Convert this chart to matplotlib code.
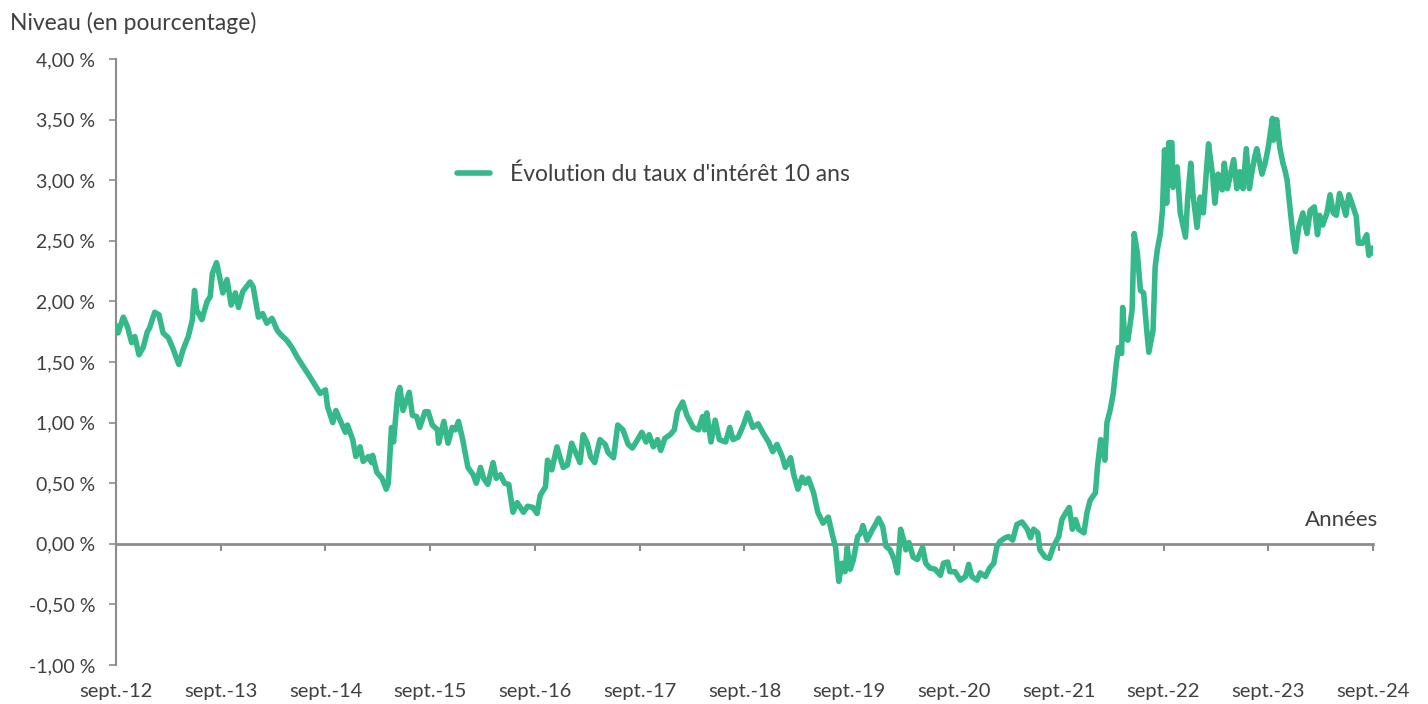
import matplotlib
matplotlib.use("Agg")
import matplotlib.pyplot as plt

plt.rcParams['font.family'] = ['Lato', 'DejaVu Sans']

# années écoulées depuis sept. 2012 et niveau du taux 10 ans (%)
annees = [
    0.00, 0.02, 0.07, 0.11, 0.15, 0.18, 0.22, 0.26, 0.30, 0.32, 0.37, 0.41, 0.45, 0.50, 0.54,
    0.60, 0.64, 0.69, 0.73, 0.75, 0.77, 0.82, 0.87, 0.90, 0.92, 0.96, 0.99, 1.02, 1.06, 1.10,
    1.14, 1.17, 1.21, 1.28, 1.31, 1.36, 1.40, 1.44, 1.49, 1.54, 1.58, 1.63, 1.68, 1.73, 1.79,
    1.85, 1.95, 2.00, 2.02, 2.07, 2.10, 2.14, 2.19, 2.21, 2.26, 2.29, 2.33, 2.36, 2.41, 2.44,
    2.45, 2.49, 2.54, 2.58, 2.60, 2.63, 2.65, 2.69, 2.71, 2.74, 2.80, 2.83, 2.87, 2.90, 2.95,
    2.98, 3.02, 3.07, 3.08, 3.13, 3.17, 3.21, 3.24, 3.27, 3.31, 3.36, 3.41, 3.44, 3.48, 3.51,
    3.55, 3.60, 3.63, 3.67, 3.71, 3.75, 3.79, 3.83, 3.89, 3.93, 3.98, 4.02, 4.05, 4.10, 4.12,
    4.16, 4.21, 4.24, 4.27, 4.31, 4.35, 4.38, 4.43, 4.46, 4.50, 4.53, 4.57, 4.62, 4.67, 4.70,
    4.75, 4.79, 4.84, 4.89, 4.93, 4.98, 5.02, 5.06, 5.09, 5.13, 5.17, 5.20, 5.24, 5.29, 5.33,
    5.36, 5.41, 5.45, 5.51, 5.56, 5.60, 5.62, 5.64, 5.68, 5.72, 5.76, 5.82, 5.86, 5.89, 5.94,
    5.99, 6.03, 6.08, 6.13, 6.18, 6.23, 6.27, 6.31, 6.36, 6.39, 6.44, 6.47, 6.51, 6.55, 6.58,
    6.61, 6.66, 6.70, 6.75, 6.80, 6.84, 6.87, 6.90, 6.93, 6.96, 6.98, 7.01, 7.04, 7.08, 7.11,
    7.13, 7.17, 7.21, 7.25, 7.28, 7.32, 7.35, 7.39, 7.43, 7.46, 7.49, 7.52, 7.54, 7.57, 7.61,
    7.65, 7.70, 7.73, 7.77, 7.82, 7.87, 7.90, 7.94, 7.96, 8.01, 8.06, 8.11, 8.14, 8.17, 8.22,
    8.25, 8.30, 8.34, 8.38, 8.41, 8.44, 8.49, 8.52, 8.56, 8.60, 8.65, 8.70, 8.73, 8.76, 8.80,
    8.82, 8.87, 8.91, 8.95, 9.00, 9.03, 9.07, 9.10, 9.13, 9.16, 9.19, 9.24, 9.27, 9.30, 9.35,
    9.37, 9.40, 9.44, 9.46, 9.49, 9.52, 9.55, 9.57, 9.60, 9.61, 9.63, 9.66, 9.70, 9.72, 9.75,
    9.78, 9.81, 9.84, 9.86, 9.90, 9.92, 9.94, 9.97, 9.99, 10.01, 10.03, 10.05, 10.08, 10.09, 10.13,
    10.16, 10.21, 10.23, 10.26, 10.28, 10.32, 10.35, 10.38, 10.41, 10.43, 10.47, 10.49, 10.52, 10.56, 10.58,
    10.61, 10.64, 10.67, 10.70, 10.73, 10.76, 10.79, 10.82, 10.84, 10.87, 10.89, 10.94, 10.97, 11.00, 11.04,
    11.05, 11.08, 11.11, 11.14, 11.16, 11.18, 11.21, 11.24, 11.26, 11.29, 11.33, 11.37, 11.40, 11.44, 11.47,
    11.49, 11.52, 11.56, 11.59, 11.62, 11.65, 11.68, 11.71, 11.74, 11.77, 11.81, 11.84, 11.86, 11.90, 11.94,
    11.96, 11.99, 12.00,
]
taux = [
    1.80, 1.74, 1.87, 1.79, 1.66, 1.71, 1.56, 1.62, 1.75, 1.78, 1.91, 1.89, 1.74, 1.70, 1.62,
    1.48, 1.60, 1.71, 1.85, 2.09, 1.93, 1.85, 2.00, 2.04, 2.23, 2.32, 2.20, 2.07, 2.18, 1.97,
    2.07, 1.95, 2.08, 2.16, 2.12, 1.87, 1.90, 1.82, 1.86, 1.76, 1.72, 1.68, 1.62, 1.54, 1.46,
    1.38, 1.24, 1.27, 1.13, 1.00, 1.10, 1.02, 0.92, 0.98, 0.86, 0.72, 0.80, 0.68, 0.72, 0.67,
    0.73, 0.59, 0.54, 0.45, 0.50, 0.96, 0.84, 1.24, 1.29, 1.10, 1.25, 1.06, 1.05, 0.96, 1.09,
    1.09, 0.98, 0.94, 0.83, 1.01, 0.83, 0.96, 0.94, 1.01, 0.86, 0.63, 0.57, 0.50, 0.63, 0.54,
    0.49, 0.67, 0.54, 0.57, 0.50, 0.49, 0.26, 0.34, 0.26, 0.31, 0.30, 0.25, 0.40, 0.47, 0.69,
    0.61, 0.80, 0.71, 0.63, 0.65, 0.83, 0.77, 0.67, 0.90, 0.83, 0.72, 0.67, 0.86, 0.82, 0.75,
    0.71, 0.98, 0.94, 0.82, 0.79, 0.86, 0.92, 0.84, 0.90, 0.80, 0.86, 0.77, 0.87, 0.90, 0.94,
    1.09, 1.17, 1.06, 0.96, 0.94, 1.05, 0.94, 1.08, 0.84, 1.02, 0.86, 0.84, 0.96, 0.86, 0.88,
    0.98, 1.08, 0.96, 0.99, 0.91, 0.84, 0.76, 0.82, 0.72, 0.63, 0.71, 0.57, 0.45, 0.55, 0.50,
    0.54, 0.42, 0.26, 0.17, 0.22, 0.07, -0.03, -0.31, -0.16, -0.23, -0.03, -0.21, -0.13, 0.06, 0.09,
    0.15, 0.03, 0.10, 0.16, 0.21, 0.14, -0.02, -0.05, -0.13, -0.24, 0.12, 0.03, -0.05, 0.01, -0.11,
    -0.13, -0.03, -0.16, -0.20, -0.21, -0.26, -0.16, -0.15, -0.23, -0.23, -0.30, -0.27, -0.17, -0.27, -0.30,
    -0.24, -0.27, -0.20, -0.16, -0.02, 0.02, 0.05, 0.06, 0.03, 0.16, 0.18, 0.12, 0.05, 0.12, 0.09,
    -0.05, -0.11, -0.12, -0.02, 0.06, 0.20, 0.26, 0.30, 0.12, 0.20, 0.12, 0.09, 0.26, 0.36, 0.42,
    0.64, 0.86, 0.69, 1.00, 1.10, 1.24, 1.49, 1.62, 1.57, 1.95, 1.70, 1.68, 1.93, 2.56, 2.40,
    2.09, 2.07, 1.76, 1.58, 1.76, 2.28, 2.42, 2.56, 2.75, 3.25, 2.81, 3.31, 3.31, 2.94, 3.11,
    2.73, 2.53, 2.84, 3.14, 2.89, 2.61, 2.86, 2.73, 3.08, 3.30, 3.03, 2.81, 3.05, 2.92, 3.14,
    2.93, 3.05, 3.17, 2.93, 3.07, 2.93, 3.26, 2.93, 3.05, 3.19, 3.26, 3.05, 3.14, 3.27, 3.51,
    3.33, 3.50, 3.27, 3.14, 3.08, 3.00, 2.75, 2.51, 2.41, 2.61, 2.73, 2.56, 2.75, 2.78, 2.55,
    2.71, 2.63, 2.73, 2.88, 2.73, 2.71, 2.89, 2.81, 2.71, 2.88, 2.78, 2.70, 2.48, 2.48, 2.55,
    2.38, 2.44, 2.40,
]

tick_pos = list(range(13))
tick_labels = ["sept.-%02d" % (12 + i) for i in range(13)]
y_ticks = [-1.0, -0.5, 0.0, 0.5, 1.0, 1.5, 2.0, 2.5, 3.0, 3.5, 4.0]
y_labels = [("%.2f %%" % v).replace(".", ",") for v in y_ticks]

vert = "#36B98A"
gris = "#8C8C8C"
texte = "#404040"

fig = plt.figure(figsize=(14.28, 7.04), dpi=100)
ax = fig.add_axes([0.0812, 0.0554, 0.8803, 0.8608])

ax.plot(annees, taux, color=vert, lw=4, solid_joinstyle='round',
        solid_capstyle='round', label="Évolution du taux d'intérêt 10 ans", zorder=3)

ax.set_xlim(0, 12)
ax.set_ylim(-1, 4)

for s in ["top", "right"]:
    ax.spines[s].set_visible(False)
ax.spines["left"].set_color(gris)
ax.spines["left"].set_linewidth(1.5)
ax.spines["bottom"].set_position(("data", 0))
ax.spines["bottom"].set_color(gris)
ax.spines["bottom"].set_linewidth(2)

ax.set_yticks(y_ticks)
ax.set_yticklabels(y_labels)
ax.tick_params(axis="y", colors=gris, length=5, width=1.2, labelsize=14,
               labelcolor=texte, pad=10)

ax.set_xticks(tick_pos)
ax.tick_params(axis="x", direction="out", colors=gris, length=5, width=1.5,
               labelbottom=False)

sec = ax.secondary_xaxis("bottom")
sec.set_xticks(tick_pos)
sec.set_xticklabels(tick_labels)
sec.spines["bottom"].set_visible(False)
sec.tick_params(length=0, labelsize=14.5, labelcolor=texte, pad=13)

fig.text(0.007, 0.968, "Niveau (en pourcentage)", fontsize=16.5, color=texte,
         ha="left", va="center")
ax.text(1.004, 0.24, "Années", transform=ax.transAxes, fontsize=16,
        color=texte, ha="right", va="center")

ax.legend(loc="center left", bbox_to_anchor=(0.255, 0.81), frameon=False,
          fontsize=16.5, handlelength=1.45, handletextpad=0.85, labelcolor=texte)

fig.savefig("out.png", dpi=100)
